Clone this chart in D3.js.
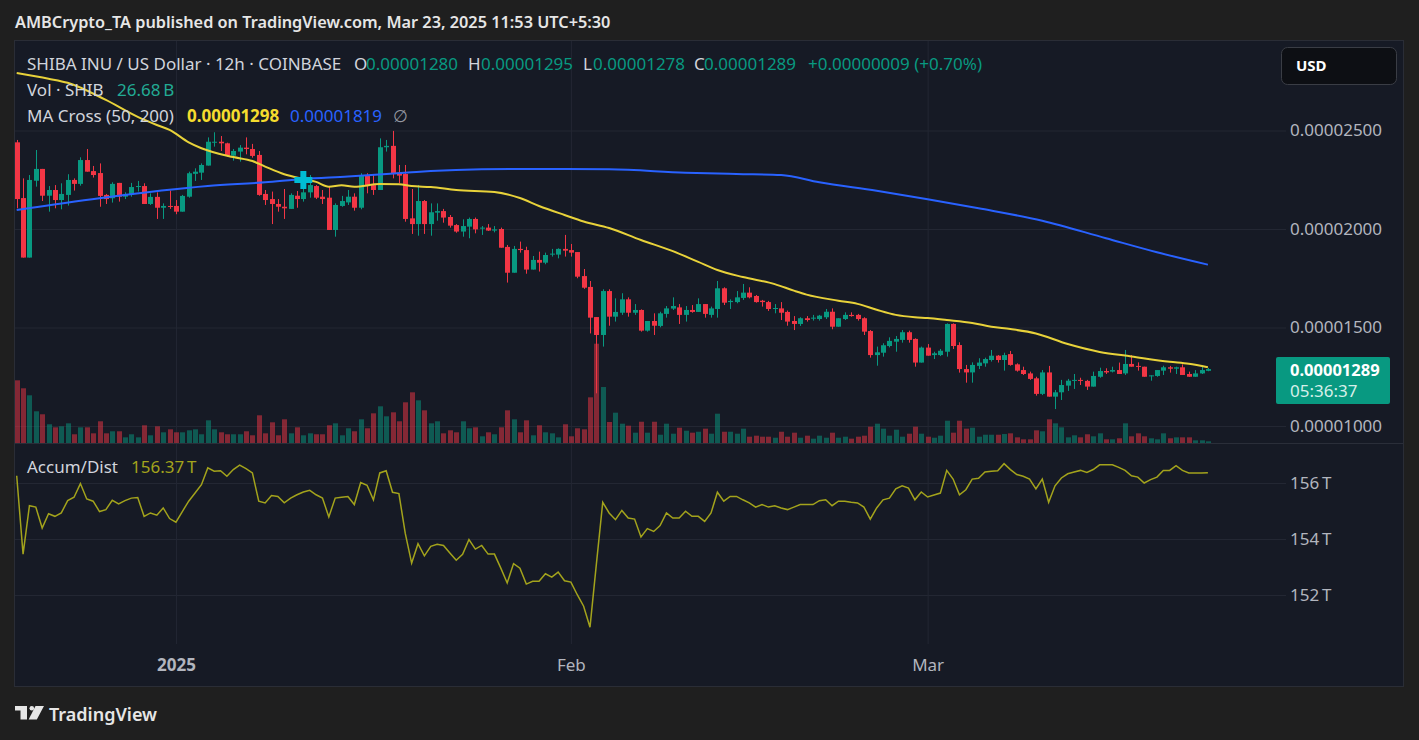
<!DOCTYPE html>
<meta charset="utf-8">
<script src="https://d3js.org/d3.v7.min.js"></script>
<style>
  body { margin: 0; background: #1f1f1f; }
  svg text { font-family: "Noto Sans", "Open Sans", sans-serif; }
</style>
<div id="chart"></div>
<script>

// SHIB / USD 12h candles (prices in units of 1e-6 USD), Dec 19 2024 12:00 -> Mar 23 2025 00:00
var open = [
  24.40,21.57,18.55,22.45,23.05,21.69,21.98,21.47,21.73,22.49,
  22.29,23.50,22.94,22.84,21.73,21.56,22.34,21.64,21.73,22.13,
  22.18,21.27,21.63,21.08,21.17,21.17,20.88,21.64,22.80,22.86,
  23.22,24.38,24.43,24.35,23.72,23.93,24.13,24.06,23.76,21.78,
  21.52,21.27,21.13,21.02,21.69,21.52,21.86,22.18,21.64,21.59,
  19.95,21.17,21.35,21.64,21.08,22.74,22.23,21.98,24.15,24.22,
  22.86,22.79,20.54,20.25,21.42,20.25,20.83,20.91,20.61,20.20,
  19.87,20.12,20.51,20.02,20.07,19.92,20.00,19.09,17.78,18.99,
  18.93,17.94,18.43,18.29,18.70,18.70,18.99,18.93,18.83,17.61,
  17.06,15.53,14.62,16.85,15.55,15.75,16.43,15.75,15.89,14.84,
  15.33,15.08,15.69,15.96,16.02,15.64,15.89,15.79,16.19,15.64,
  15.94,16.99,16.29,16.29,16.50,16.77,16.60,16.36,16.29,15.94,
  15.97,15.79,15.33,15.18,15.47,15.45,15.43,15.52,15.80,15.04,
  15.43,15.64,15.64,15.47,14.82,13.60,13.72,14.06,14.28,14.37,
  14.76,14.42,13.22,13.98,13.60,13.60,13.77,15.18,14.11,12.89,
  12.72,13.05,13.18,13.35,13.57,13.35,13.65,13.13,12.84,12.67,
  12.42,11.63,12.72,11.49,11.71,12.05,12.29,12.34,12.29,12.00,
  12.50,12.79,12.76,12.84,12.67,13.15,13.05,13.01,12.54,12.54,
  12.81,12.98,12.91,12.98,12.64,12.50,12.67,12.80];

var high = [
  24.52,22.57,22.74,24.01,23.05,22.18,22.23,22.32,22.78,22.57,
  23.64,24.06,23.20,23.33,21.78,22.37,22.34,21.86,22.34,22.44,
  22.32,21.81,21.86,21.30,21.95,21.47,21.73,22.91,23.08,23.33,
  24.65,24.91,24.72,24.38,24.06,24.26,24.65,24.32,23.96,21.98,
  21.90,21.52,22.03,21.81,21.93,22.07,22.74,22.23,21.98,22.18,
  21.30,21.68,21.98,21.81,22.83,22.83,22.74,24.60,24.52,24.98,
  23.25,23.25,22.03,22.23,21.47,21.30,21.30,21.02,20.71,20.25,
  20.49,20.58,20.58,20.15,20.25,20.15,20.07,19.19,19.14,19.36,
  19.10,18.63,18.85,18.80,18.99,19.02,19.70,19.24,18.83,17.97,
  17.36,15.53,16.94,16.94,16.48,16.74,16.53,16.19,15.92,15.33,
  15.72,15.80,16.09,16.53,16.19,16.09,16.14,16.48,16.19,16.06,
  17.36,17.04,16.43,16.85,17.21,17.04,16.65,16.40,16.35,16.19,
  16.29,15.86,15.58,15.52,15.58,15.64,15.64,15.94,15.97,15.47,
  15.77,15.77,15.69,15.52,14.87,14.03,14.20,14.50,14.57,14.87,
  14.84,14.45,14.03,14.16,13.77,13.91,15.21,15.21,14.25,13.10,
  13.23,13.44,13.47,13.86,13.60,13.72,13.81,13.18,13.01,12.76,
  12.50,12.84,13.05,11.83,12.34,12.39,12.64,12.45,12.34,12.76,
  12.96,12.93,13.01,13.22,13.86,13.60,13.23,13.01,12.57,12.84,
  13.06,13.05,13.01,13.13,12.76,12.84,13.01,12.95];

var low = [
  21.05,18.55,18.55,22.15,21.42,20.88,21.05,21.00,21.19,21.95,
  22.20,22.91,22.61,21.13,21.27,21.34,21.39,21.52,21.64,21.90,
  21.27,21.22,20.51,20.51,21.02,20.75,20.88,21.59,22.44,22.49,
  23.22,24.18,23.96,23.67,23.47,23.42,23.79,23.62,21.69,21.22,
  20.25,20.88,20.51,21.02,21.08,21.39,21.59,21.52,21.27,19.95,
  19.61,21.13,21.22,20.93,21.00,21.81,21.73,21.98,23.93,22.57,
  22.32,20.37,19.75,19.66,19.75,19.66,20.42,20.32,20.07,19.81,
  19.61,19.53,19.78,19.70,19.90,19.83,19.05,17.28,17.78,18.80,
  17.73,17.94,17.84,18.21,18.60,18.51,18.60,18.60,17.50,16.96,
  14.70,11.66,14.03,15.09,15.30,15.64,15.55,15.64,14.79,14.79,
  14.62,15.01,15.50,15.89,15.18,15.30,15.75,15.79,15.50,15.50,
  15.50,16.14,15.94,16.23,16.40,16.48,16.26,16.06,15.84,15.72,
  15.38,15.09,14.87,15.08,15.30,15.35,15.35,15.43,14.91,15.04,
  15.38,15.55,15.35,14.62,13.47,13.06,13.52,13.99,13.77,14.23,
  14.23,13.01,13.22,13.57,13.40,13.55,13.52,13.91,12.71,12.20,
  12.20,12.89,13.01,13.27,13.22,12.81,13.06,12.76,12.59,12.34,
  11.54,11.57,11.49,10.86,11.32,11.78,11.88,12.08,11.83,12.00,
  12.45,12.64,12.72,12.64,12.59,13.01,12.81,12.50,12.30,12.50,
  12.59,12.71,12.64,12.59,12.50,12.50,12.64,12.78];

var close = [
  21.52,18.55,22.49,23.05,21.69,21.98,21.47,21.78,22.49,22.29,
  23.50,22.91,22.74,21.68,21.52,22.29,21.64,21.78,22.13,22.18,
  21.27,21.63,21.08,21.17,21.12,20.88,21.68,22.83,22.91,23.25,
  24.43,24.43,24.35,23.72,23.96,24.13,24.06,23.71,21.73,21.47,
  21.27,21.13,21.05,21.73,21.52,21.86,22.23,21.59,21.52,19.95,
  21.22,21.42,21.64,21.08,22.74,22.18,21.98,24.15,24.22,22.79,
  22.71,20.51,20.25,21.42,20.25,20.85,20.91,20.58,20.17,19.87,
  20.15,20.51,19.98,20.07,19.92,19.98,19.05,17.78,18.99,18.93,
  17.94,18.43,18.29,18.68,18.75,18.99,18.90,18.80,17.58,17.02,
  15.50,14.62,16.85,15.55,15.79,16.43,15.75,15.89,14.84,15.33,
  15.09,15.72,15.97,16.09,15.64,15.89,15.79,16.19,15.69,15.97,
  16.99,16.26,16.35,16.53,16.77,16.53,16.29,16.29,15.94,15.99,
  15.75,15.30,15.18,15.47,15.38,15.50,15.60,15.80,15.04,15.47,
  15.64,15.58,15.43,14.79,13.60,13.74,14.10,14.32,14.42,14.76,
  14.37,13.22,13.98,13.57,13.69,13.82,15.18,14.06,12.89,12.72,
  13.10,13.22,13.40,13.57,13.35,13.60,13.10,12.81,12.64,12.39,
  11.63,12.72,11.49,11.71,12.08,12.30,12.34,12.29,12.00,12.54,
  12.79,12.72,12.84,12.64,13.15,13.01,13.01,12.50,12.57,12.84,
  12.98,12.91,12.98,12.59,12.50,12.67,12.84,12.89];

// volume in billions of SHIB
var volume = [
  984,859,749,498,451,294,246,262,309,137,
  246,246,152,341,152,184,184,89,137,89,
  278,121,262,168,215,168,168,199,215,137,
  356,215,168,137,137,137,184,121,435,152,
  325,121,372,152,246,121,152,137,137,278,
  309,121,231,184,372,231,466,576,419,482,
  341,639,796,670,513,309,341,152,199,168,
  341,231,246,105,168,137,246,513,372,168,
  356,121,278,168,152,89,294,105,231,215,
  717,1559,879,330,476,303,272,162,334,162,
  334,130,303,146,240,193,162,177,225,146,
  460,177,177,146,225,99,115,99,99,83,
  177,99,162,83,115,68,115,83,162,83,
  99,68,99,115,256,303,225,115,209,99,
  146,256,146,99,83,115,350,162,350,225,
  240,99,130,130,130,141,152,89,58,58,
  199,184,372,309,246,89,121,89,137,105,
  152,58,58,74,309,105,152,105,74,58,
  152,74,89,89,89,42,42,26.68];

// Accumulation / Distribution, in trillions
var accDist = [
  156.26,153.46,155.19,155.14,154.39,154.90,154.81,154.93,155.37,155.49,
  155.98,155.43,155.35,154.98,155.05,155.38,155.25,155.37,155.46,155.48,
  154.81,154.93,154.85,155.11,154.73,154.60,154.98,155.35,155.64,155.94,
  156.54,156.42,156.44,156.24,156.48,156.64,156.51,156.36,155.35,155.29,
  155.55,155.52,155.29,155.46,155.58,155.68,155.74,155.58,155.46,154.79,
  155.46,155.49,155.52,155.23,156.02,155.92,155.40,156.36,156.44,155.67,
  155.62,154.20,153.14,153.83,153.40,153.74,153.81,153.77,153.50,153.24,
  153.45,153.98,153.64,153.77,153.46,153.46,152.96,152.43,153.12,152.96,
  152.39,152.49,152.49,152.76,152.64,152.82,152.51,152.46,152.01,151.60,
  150.85,153.10,155.31,154.93,154.69,155.02,154.75,154.71,154.07,154.37,
  154.27,154.48,154.93,154.75,154.75,154.99,154.81,154.81,154.63,154.93,
  155.67,155.35,155.52,155.52,155.40,155.29,155.14,155.23,155.14,155.19,
  155.11,155.05,155.14,155.23,155.23,155.23,155.37,155.40,155.19,155.35,
  155.35,155.31,155.29,155.14,154.71,155.11,155.40,155.46,155.79,155.90,
  155.82,155.40,155.68,155.50,155.57,155.64,156.45,156.14,155.58,155.76,
  156.14,156.17,156.39,156.42,156.44,156.69,156.48,156.30,156.24,156.14,
  155.79,156.14,155.31,155.90,156.18,156.33,156.39,156.45,156.38,156.48,
  156.65,156.65,156.65,156.56,156.45,156.26,156.21,156.00,156.12,156.21,
  156.45,156.45,156.62,156.45,156.36,156.36,156.36,156.37];

// MA Cross (50, 200) read at candle indexes
var ma50Index = [0,5,8,14,19,22,24,27,29,34,37,39,42,45,47,49,51,53,57,60,62,65,69,75,79,82,86,89,93,98,
                 103,107,110,114,119,122,124,129,132,135,138,141,143,146,150,153,156,160,165,170,175,181,184,187];
var ma50Value = [27.92,27.63,27.42,26.55,25.69,25.28,25.03,24.40,24.10,23.65,23.45,23.17,22.78,22.54,22.39,22.15,22.22,22.14,22.28,22.27,
                 22.18,22.13,21.98,21.88,21.57,21.17,20.71,20.38,20.05,19.44,18.88,18.33,17.92,17.56,17.20,16.87,16.67,16.36,16.20,15.90,
                 15.64,15.52,15.48,15.38,15.23,15.04,14.92,14.70,14.16,13.76,13.53,13.26,13.16,12.98];
var ma200Index = [0,13,30,39,45,52,62,65,73,81,93,105,113,120,126,135,143,151,161,171,179,187];
var ma200Value = [20.96,21.56,22.18,22.37,22.54,22.66,22.88,22.94,23.03,23.05,23.03,22.86,22.79,22.74,22.37,21.94,21.51,21.05,20.42,19.53,18.82,18.19];
var crossIndex = 45, crossValue = 22.49;

var priceTicks = [10, 15, 20, 25];
var adTicks = [152, 154, 156];
var timeTicks = [new Date(Date.UTC(2025,0,1)), new Date(Date.UTC(2025,1,1)), new Date(Date.UTC(2025,2,1))];
var timeLabels = ["2025", "Feb", "Mar"];

var upColor = "#089981", downColor = "#f23645";

// layout
var W = 1419, H = 740;
var frame = {left: 15, right: 1403, top: 41, bottom: 686};
var plotRight = 1286, mainBottom = 443, adBottom = 644;

var t0 = Date.UTC(2024, 11, 19, 12), halfDay = 12 * 3600 * 1000;
var times = close.map(function(d, i) { return new Date(t0 + i * halfDay); });

var x = d3.scaleUtc().domain([times[0], times[times.length - 1]]).range([16.7, 1207.9]);
var y = d3.scaleLinear().domain([10, 25]).range([426, 130.5]);
var yVol = d3.scaleLinear().domain([0, 1570]).range([mainBottom, mainBottom - 100]);
var yAD = d3.scaleLinear().domain([152, 156]).range([595, 483]);

var svg = d3.select("#chart").append("svg").attr("width", W).attr("height", H);

svg.append("rect").attr("width", W).attr("height", H).attr("fill", "#1f1f1f");
svg.append("rect")
    .attr("x", frame.left - 0.5).attr("y", frame.top - 0.5)
    .attr("width", frame.right - frame.left + 1).attr("height", frame.bottom - frame.top + 1)
    .attr("fill", "#161a25").attr("stroke", "#2a2d36");

var defs = svg.append("defs");
defs.append("clipPath").attr("id", "clipMain").append("rect")
    .attr("x", frame.left).attr("y", frame.top).attr("width", plotRight - frame.left).attr("height", mainBottom - frame.top);
defs.append("clipPath").attr("id", "clipAD").append("rect")
    .attr("x", frame.left).attr("y", mainBottom + 1).attr("width", plotRight - frame.left).attr("height", adBottom - mainBottom - 1);

// grid lines
var grid = svg.append("g");
grid.append("g").attr("transform", "translate(" + plotRight + ",0)")
    .call(d3.axisLeft(y).tickValues(priceTicks).tickSize(plotRight - frame.left).tickFormat(""));
grid.append("g").attr("transform", "translate(" + plotRight + ",0)")
    .call(d3.axisLeft(yAD).tickValues(adTicks).tickSize(plotRight - frame.left).tickFormat(""));
grid.append("g").attr("transform", "translate(0," + adBottom + ")")
    .call(d3.axisBottom(x).tickValues(timeTicks).tickSize(adBottom - frame.top).tickFormat(""))
    .selectAll("line").attr("y2", -(adBottom - frame.top));
grid.selectAll(".domain").remove();
grid.selectAll("line").attr("stroke", "#232733").attr("stroke-width", 1);

// pane separator
svg.append("line").attr("x1", frame.left).attr("x2", frame.right)
    .attr("y1", mainBottom + 0.5).attr("y2", mainBottom + 0.5).attr("stroke", "#2a2e39");

var idx = d3.range(close.length);
var main = svg.append("g").attr("clip-path", "url(#clipMain)");

function cx(i) { return Math.round(x(times[i])); }
function isUp(i) { return close[i] >= open[i]; }

// volume
main.selectAll(".vol").data(idx).enter().append("rect")
    .attr("x", function(i) { return cx(i) - 2; })
    .attr("width", 5)
    .attr("y", function(i) { return yVol(volume[i]); })
    .attr("height", function(i) { return mainBottom - yVol(volume[i]); })
    .attr("fill", function(i) { return isUp(i) ? "rgba(8,153,129,0.5)" : "rgba(242,54,69,0.5)"; });

// wicks
main.selectAll(".wick").data(idx).enter().append("line")
    .attr("x1", function(i) { return cx(i) + 0.5; })
    .attr("x2", function(i) { return cx(i) + 0.5; })
    .attr("y1", function(i) { return y(high[i]); })
    .attr("y2", function(i) { return y(low[i]); })
    .attr("stroke", function(i) { return isUp(i) ? upColor : downColor; });

// bodies
main.selectAll(".body").data(idx).enter().append("rect")
    .attr("x", function(i) { return cx(i) - 2; })
    .attr("width", 5)
    .attr("y", function(i) { return y(Math.max(open[i], close[i])); })
    .attr("height", function(i) { return Math.max(1, Math.abs(y(open[i]) - y(close[i]))); })
    .attr("fill", function(i) { return isUp(i) ? upColor : downColor; });

// moving averages
var maLine = d3.line().curve(d3.curveMonotoneX)
    .x(function(d) { return x(times[d[0]]); })
    .y(function(d) { return y(d[1]); });
main.append("path").datum(d3.zip(ma200Index, ma200Value)).attr("d", maLine)
    .attr("fill", "none").attr("stroke", "#2962ff").attr("stroke-width", 2);
main.append("path").datum(d3.zip(ma50Index, ma50Value)).attr("d", maLine)
    .attr("fill", "none").attr("stroke", "#e8d23a").attr("stroke-width", 2);

// MA cross marker
main.append("path")
    .attr("d", d3.symbol(d3.symbolCross, 180)())
    .attr("transform", "translate(" + x(times[crossIndex]) + "," + y(crossValue) + ")")
    .attr("fill", "#00bcd4");

// Accum/Dist pane
svg.append("g").attr("clip-path", "url(#clipAD)").append("path")
    .datum(idx)
    .attr("d", d3.line().x(function(i) { return x(times[i]); }).y(function(i) { return yAD(accDist[i]); }))
    .attr("fill", "none").attr("stroke", "#a3a31c").attr("stroke-width", 1.5);

// price scale labels
var axisText = "#b2b5be";
var pAxis = svg.append("g").attr("transform", "translate(1290,0)")
    .call(d3.axisRight(y).tickValues(priceTicks).tickSize(0).tickPadding(0)
        .tickFormat(function(d) { return (d * 1e-6).toFixed(8); }));
var adAxis = svg.append("g").attr("transform", "translate(1290,0)")
    .call(d3.axisRight(yAD).tickValues(adTicks).tickSize(0).tickPadding(0)
        .tickFormat(function(d) { return d + "\u2009T"; }));
var tAxis = svg.append("g").attr("transform", "translate(0,665)")
    .call(d3.axisBottom(x).tickValues(timeTicks).tickSize(0).tickPadding(0)
        .tickFormat(function(d, i) { return timeLabels[i]; }));
[pAxis, adAxis, tAxis].forEach(function(a) {
    a.select(".domain").remove();
    a.selectAll("text").attr("fill", axisText).style("font-size", "17px")
        .style("font-family", "'Noto Sans', sans-serif");
});
tAxis.selectAll("text").attr("y", 0).attr("dy", "0.35em");
tAxis.selectAll("text").filter(function(d, i) { return i === 0; }).style("font-weight", "bold");

// last price label
var lastY = 357;
svg.append("rect").attr("x", 1276).attr("y", lastY).attr("width", 114).attr("height", 47)
    .attr("rx", 2).attr("fill", "#089981");
svg.append("text").attr("x", 1290).attr("y", lastY + 13).attr("dy", "0.35em")
    .attr("fill", "#ffffff").style("font-size", "16.5px").style("font-weight", "bold")
    .text((close[close.length - 1] * 1e-6).toFixed(8));
svg.append("text").attr("x", 1290).attr("y", lastY + 34).attr("dy", "0.35em")
    .attr("fill", "#d6efe9").style("font-size", "17px").text("05:36:37");

// USD button
svg.append("rect").attr("x", 1281.5).attr("y", 47.5).attr("width", 115).attr("height", 37)
    .attr("rx", 6).attr("fill", "#0d0f14").attr("stroke", "#3a3d45");
svg.append("text").attr("x", 1296).attr("y", 66).attr("dy", "0.35em")
    .attr("fill", "#ffffff").style("font-size", "15px").style("font-weight", "bold").text("USD");

// header
svg.append("text").attr("x", 15).attr("y", 22).attr("dy", "0.35em")
    .attr("fill", "#e6e6e6").style("font-size", "16.3px").style("font-weight", "600")
    .text("AMBCrypto_TA published on TradingView.com, Mar 23, 2025 11:53 UTC+5:30");

// legend
function label(xp, yp, txt, color, weight) {
    svg.append("text").attr("x", xp).attr("y", yp).attr("dy", "0.35em")
        .attr("fill", color).style("font-size", "17px").style("font-weight", weight || "normal").text(txt);
}
var legendGrey = "#d1d4dc";
label(27, 64, "SHIBA INU / US Dollar \u00b7 12h \u00b7 COINBASE", legendGrey);
label(354, 64, "O", legendGrey);
label(366, 64, "0.00001280", upColor);
label(468, 64, "H", legendGrey);
label(481, 64, "0.00001295", upColor);
label(583, 64, "L", legendGrey);
label(593, 64, "0.00001278", upColor);
label(694, 64, "C", legendGrey);
label(704, 64, (close[close.length - 1] * 1e-6).toFixed(8), upColor);
label(808, 64, "+0.00000009 (+0.70%)", upColor);
label(27, 90, "Vol \u00b7 SHIB", legendGrey);
label(117, 90, (volume[volume.length - 1]).toFixed(2) + "\u2009B", "#22ab94");
label(27, 116, "MA Cross (50, 200)", legendGrey);
label(187, 116, "0.00001298", "#f5dc2e", "bold");
label(290, 116, "0.00001819", "#2962ff");
label(393, 116, "\u2205", "#9598a1");
label(27, 467, "Accum/Dist", legendGrey);
label(131, 467, accDist[accDist.length - 1].toFixed(2) + "\u2009T", "#a3a31c");

// TradingView logo
var logo = svg.append("g").attr("fill", "#e6e6e6");
logo.append("path").attr("d", "M15,706 H27 V719.5 H20.5 V710.5 H15 Z");
logo.append("circle").attr("cx", 31.8).attr("cy", 708.3).attr("r", 2.3);
logo.append("path").attr("d", "M35.5,706 H44 L36.8,719.5 H28.6 Z");
svg.append("text").attr("x", 49).attr("y", 715).attr("dy", "0.35em")
    .attr("fill", "#e6e6e6").style("font-size", "18px").style("font-weight", "600").text("TradingView");

</script>
